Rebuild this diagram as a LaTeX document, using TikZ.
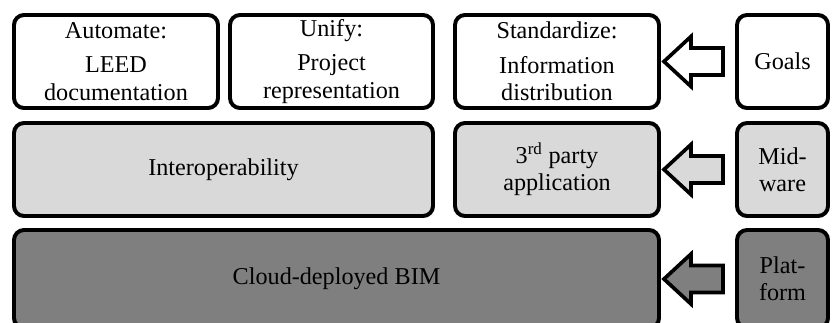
\documentclass[tikz,border=0pt]{standalone}
\usepackage{fontspec}
\setmainfont{Liberation Serif}
\usetikzlibrary{calc}

\definecolor{midgray}{HTML}{D9D9D9}
\definecolor{basegray}{HTML}{7F7F7F}

% block arrow from the layer name (#1) to the layer boxes (#2)
\newcommand{\layerarrow}[3]{%
  \draw[layer arrow, fill=#3] ($(#2.east)+(3,0)$) coordinate (tip)
    -- ++(27,-25) -- ++(0,11.5) -- ($(#1.west)+(-12,-13.5)$)
    -- ($(#1.west)+(-12,13.5)$) -- ($(tip)+(27,13.5)$) -- ++(0,11.5) -- cycle;
}

\begin{document}
\begin{tikzpicture}[
		x=0.025cm, y=-0.025cm,
		every node/.style={rectangle, draw, line width=2.8pt, rounded corners=0.25cm,
			align=center, inner sep=0pt, font=\fontsize{17.2}{19.5}\selectfont},
		boxsize/.style 2 args={minimum width=#1*0.025cm, minimum height=#2*0.025cm},
		layer arrow/.style={line width=2.6pt, line join=miter}
	]
  \clip (0,0) rectangle (832,322);
  \node (automate) [boxsize={204}{93}] at (116,61.5) {Automate:\\[5pt]LEED\\documentation};
  \node (unify) [boxsize={203}{93}] at (331.5,61.5) {Unify:\\[5pt]Project\\representation};
  \node (standard) [boxsize={204}{93}] at (557,61.5) {Standardize:\\[5pt]Information\\distribution};
  \node (goals) [boxsize={91}{93}] at (782.5,61.5) {Goals};
  \node (interop) [boxsize={419}{93}, fill=midgray] at (223.5,169.5) {Interoperability};
  \node (party) [boxsize={204}{93}, fill=midgray] at (557,169.5) {3\textsuperscript{rd} party\\application};
  \node (midware) [boxsize={91}{93}, fill=midgray] at (782.5,169.5) {Mid-\\ware};
  \node (cloud) [boxsize={645}{98}, fill=basegray] at (336.5,279) {Cloud-deployed BIM};
  \node (platform) [boxsize={91}{98}, fill=basegray] at (782.5,279) {Plat-\\form};
  \layerarrow{goals}{standard}{white}
  \layerarrow{midware}{party}{midgray}
  \layerarrow{platform}{cloud}{basegray}
\end{tikzpicture}
\end{document}
